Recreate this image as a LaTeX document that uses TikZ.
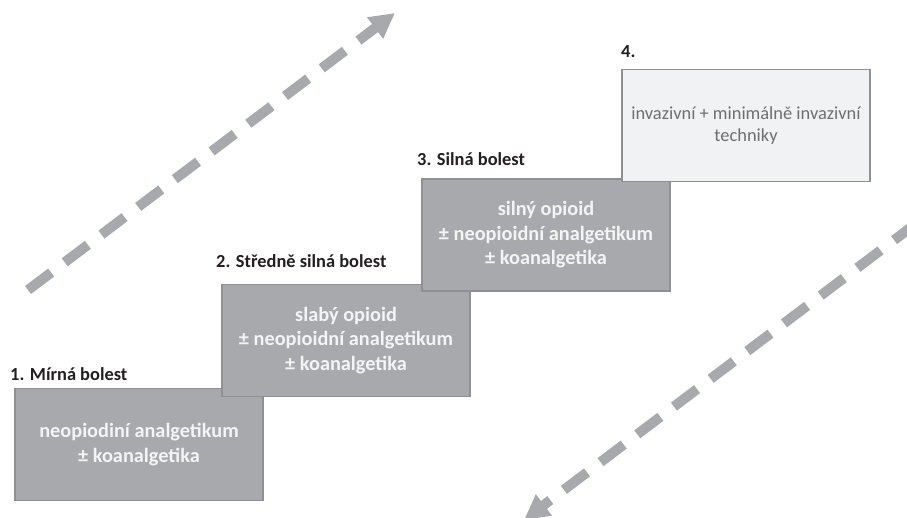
\documentclass[tikz,border=0pt]{standalone}
\usepackage{fontspec}
\setmainfont{Carlito}
\usetikzlibrary{arrows.meta}
\definecolor{stepgray}{HTML}{A7A9AC}
\definecolor{boxline}{HTML}{8E9093}
\definecolor{boxtext}{HTML}{F4F4F5}
\definecolor{lightfill}{HTML}{F1F2F3}
\definecolor{lighttext}{HTML}{6D6E71}
\definecolor{labeltext}{HTML}{231F20}
\definecolor{arrowgray}{HTML}{A7A9AC}
\begin{document}
\begin{tikzpicture}[x=1pt,y=-1pt,
  stepbox/.style={draw=boxline, line width=1.2pt, fill=stepgray,
    minimum width=248pt, minimum height=112pt, inner sep=0pt,
    align=center, text=boxtext,
    font=\fontsize{20.3}{24.5}\selectfont\bfseries},
  topbox/.style={stepbox, fill=lightfill, text=lighttext,
    font=\fontsize{18.4}{21.5}\selectfont},
  steplabel/.style={anchor=base west, inner sep=0pt, text=labeltext,
    font=\fontsize{18.4}{22}\selectfont\bfseries},
  flow/.style={draw=arrowgray, line width=10pt,
    dash pattern=on 29pt off 17pt,
    -{Triangle[length=25pt,width=25pt]}}]
\useasboundingbox (0,0) rectangle (907,517);
\begin{scope}
\clip (0,0) rectangle (907,517);
% arrows
\coordinate (upS) at (28,290);
\coordinate (upE) at (395,13);
\draw[flow] (upS) -- (upE);
\coordinate (dnS) at (917.2,222.6);
\coordinate (dnE) at (524,520);
\draw[flow] (dnS) -- (dnE);
% boxes
\node[stepbox] (b1) at (139,444.5) {neopiodiní analgetikum\\± koanalgetika};
\node[stepbox] (b2) at (346,340.5) {slabý opioid\\± neopioidní analgetikum\\± koanalgetika};
\node[stepbox] (b3) at (546,235) {silný opioid\\± neopioidní analgetikum\\± koanalgetika};
\node[topbox] (b4) at (746,125.5) {invazivní + minimálně invazivní\\techniky};
% labels
\node[steplabel] (l1) at (10,380) {1. Mírná bolest};
\node[steplabel] (l2) at (216,267) {2. Středně silná bolest};
\node[steplabel] (l3) at (417,165) {3. Silná bolest};
\node[steplabel] (l4) at (621,57) {4.};
\end{scope}
\end{tikzpicture}
\end{document}
